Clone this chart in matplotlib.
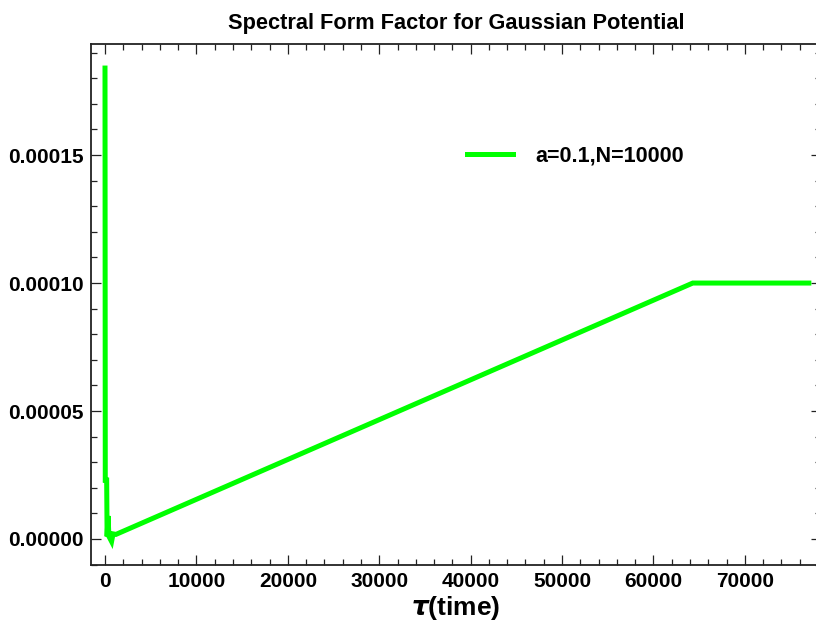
import matplotlib
matplotlib.use("Agg")
import matplotlib.pyplot as plt
from matplotlib.ticker import MultipleLocator, FormatStrFormatter

# Spectral form factor samples: early-time spike, dip, linear ramp, plateau at 1/N
tau = [0, 30, 180, 230, 330, 430, 720, 880, 1200, 64300, 77000]
sff = [1.84e-4, 2.2e-5, 2.4e-5, 1.0e-6, 9.0e-6, 1.0e-6, -1.0e-6, 2.0e-6, 1.8e-6, 1.0e-4, 1.0e-4]
series_label = "a=0.1,N=10000"

title = "Spectral Form Factor for Gaussian Potential"
xlabel = r"$\boldsymbol{\tau}$(time)"

plt.rcParams["font.family"] = ["Liberation Sans", "DejaVu Sans"]
plt.rcParams["mathtext.fontset"] = "custom"
plt.rcParams["mathtext.it"] = "Liberation Sans:italic:bold"
plt.rcParams["mathtext.rm"] = "Liberation Sans:bold"
plt.rcParams["mathtext.bf"] = "Liberation Sans:bold"

fig = plt.figure(figsize=(8.16, 6.27), dpi=100)
left_px, right_px, top_px, bottom_px = 91, 821, 44, 565
ax = fig.add_axes([left_px / 816, 1 - bottom_px / 627,
                   (right_px - left_px) / 816, (bottom_px - top_px) / 627])

ax.plot(tau, sff, color="#00ff00", lw=3.6, solid_joinstyle="miter", label=series_label)

# keep the same data-to-pixel scale as the axes grows past the right edge
px_per_unit = 0.009141
ax.set_xlim(-(105 - left_px) / px_per_unit, (right_px - 105) / px_per_unit)
ax.set_ylim(-1.016e-5, 1.934e-4)

ax.xaxis.set_major_locator(MultipleLocator(10000))
ax.xaxis.set_minor_locator(MultipleLocator(2000))
ax.yaxis.set_major_locator(MultipleLocator(5e-5))
ax.yaxis.set_minor_locator(MultipleLocator(1e-5))
ax.yaxis.set_major_formatter(FormatStrFormatter("%.5f"))

ax.tick_params(which="both", direction="in", top=True, right=True, width=0.9, color="#222222")
ax.tick_params(which="major", length=7, labelsize=15, pad=5)
ax.tick_params(which="minor", length=4.3)
for lbl in ax.get_xticklabels() + ax.get_yticklabels():
    lbl.set_fontweight("bold")

for s in ax.spines.values():
    s.set_linewidth(1.3)
    s.set_color("#222222")
ax.spines["right"].set_visible(False)

ax.set_title(title, fontsize=15.7, fontweight="bold", pad=11)
ax.set_xlabel(xlabel, fontsize=19, fontweight="bold", labelpad=2)

leg = ax.legend(loc="upper left", bbox_to_anchor=(0.488, 0.843), frameon=False,
                prop={"size": 15.5, "weight": "bold"}, handlelength=2.15, handletextpad=1.05)

fig.savefig("out.png", dpi=100)
